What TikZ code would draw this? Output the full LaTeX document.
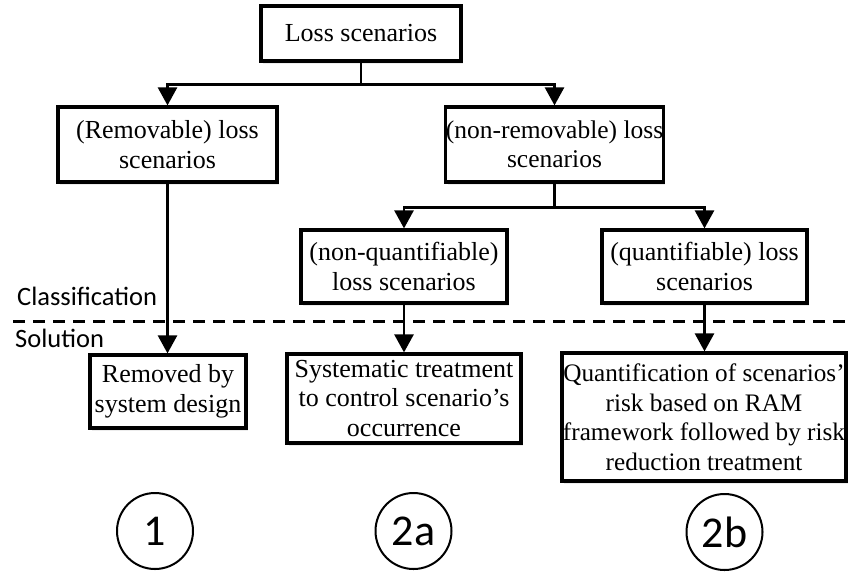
\documentclass[tikz,border=0pt]{standalone}
\usepackage{fontspec}
\setmainfont{Liberation Serif}
\newfontfamily\labelfont{Carlito}
\usetikzlibrary{arrows.meta,shadows}

\begin{document}
\begin{tikzpicture}[x=1pt,y=-1pt,
  box/.style={draw, line width=3.2pt, fill=white, inner sep=0pt, align=center,
    font=\fontsize{26}{29.5}\selectfont,
    drop shadow={opacity=0.15, shadow xshift=2pt, shadow yshift=-3pt}},
  conn/.style={line width=2.6pt},
  arr/.style={conn, -{Triangle[length=18pt,width=19pt]}},
  sidelabel/.style={inner sep=0pt, anchor=base west, font=\labelfont\fontsize{26.5}{29}\selectfont},
  casemark/.style={draw, circle, line width=2pt, minimum size=76pt, inner sep=0pt,
    font=\labelfont\fontsize{44}{44}\selectfont}]

\useasboundingbox (0,0) rectangle (853,571);

% classification / solution separator
\draw[line width=3pt, dash pattern=on 12pt off 8pt] (13,321) -- (853,321);
\node[sidelabel] (cls) at (17,305) {Classification};
\node[sidelabel] (sol) at (15,347) {Solution};

% classification tree
\node[box, minimum width=200pt, minimum height=55pt] (top) at (361,33.5) {Loss scenarios};
\node[box, minimum width=219pt, minimum height=75pt] (rem) at (167.5,144.5) {(Removable) loss\\scenarios};
\node[box, minimum width=217pt, minimum height=75pt, font=\fontsize{25.5}{29.5}\selectfont] (nonrem) at (554.5,144.5) {(non-removable) loss\\scenarios};
\node[box, minimum width=206pt, minimum height=73pt] (nonq) at (404,266.5) {(non-quantifiable)\\loss scenarios};
\node[box, minimum width=205pt, minimum height=73pt] (quant) at (704.5,266.5) {(quantifiable) loss\\scenarios};

% solutions
\node[box, minimum width=156pt, minimum height=73pt] (removed) at (168,391.5) {Removed by\\system design};
\node[box, minimum width=234pt, minimum height=89pt] (systematic) at (404,398.5) {Systematic treatment\\to control scenario's\\occurrence};
\node[box, minimum width=284pt, minimum height=128pt, font=\fontsize{25.2}{29.5}\selectfont] (quantify) at (704,417) {Quantification of scenarios'\\risk based on RAM\\framework followed by risk\\reduction treatment};

% connectors
\draw[arr] (top.south) -- ++(0,22) -| (rem.north);
\draw[arr] (top.south) -- ++(0,22) -| (nonrem.north);
\draw[arr] (nonrem.south) -- ++(0,24) -| (nonq.north);
\draw[arr] (nonrem.south) -- ++(0,24) -| (quant.north);
\draw[arr] (rem.south) -- (rem.south |- removed.north);
\draw[arr] (nonq.south) -- (nonq.south |- systematic.north);
\draw[arr] (quant.south) -- (quant.south |- quantify.north);

% case markers
\node[casemark] (c1) at (155,531) {1};
\node[casemark] (c2a) at (413.5,531) {2a};
\node[casemark] (c2b) at (724.5,532) {2b};
\end{tikzpicture}
\end{document}
